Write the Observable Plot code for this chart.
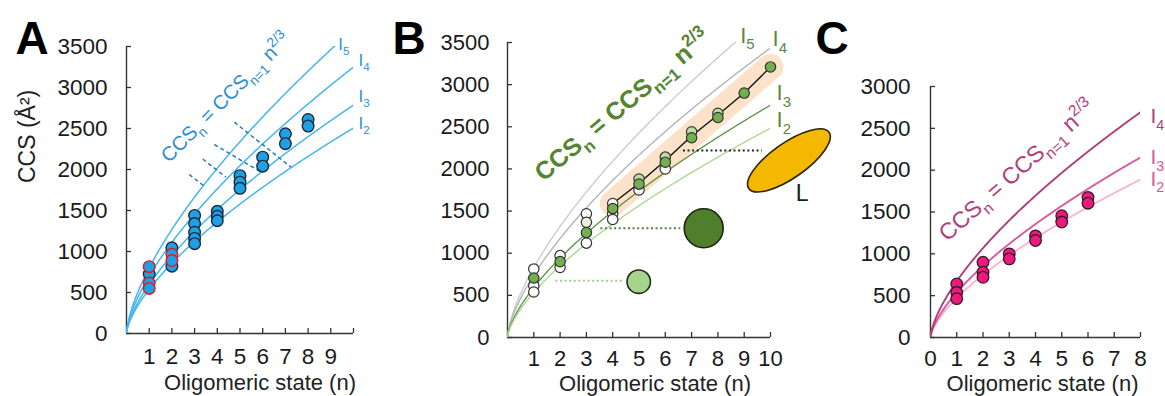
<!DOCTYPE html>
<html><head><meta charset="utf-8">
<script src="https://cdn.jsdelivr.net/npm/d3@7"></script>
<script src="https://cdn.jsdelivr.net/npm/@observablehq/plot@0.6"></script>
<style>
body{margin:0;background:#fff;}
#wrap{position:relative;width:1165px;height:396px;overflow:hidden;background:#fff;}
#wrap > svg{position:absolute;top:0;}
</style></head><body><div id="wrap"></div>
<script>
// ---------------- DATA ----------------
// Panel A
const aPtN   = [1,1,1,1, 2,2,2,2, 3,3,3,3,3, 4,4,4, 5,5,5, 6,6, 7,7, 8,8];
const aPtCCS = [815,725,615,550, 1045,965,890,820, 1440,1340,1235,1160,1095, 1490,1430,1375, 1925,1845,1770, 2150,2040, 2435,2315, 2610,2530];
const aPtRim = ["red","dark","red","red", "dark","red","red","dark", "dark","dark","dark","dark","dark", "dark","dark","dark", "dark","dark","dark", "dark","dark", "dark","dark", "dark","dark"];
const aCurveName = ["5","4","3","2"];
const aCurveCCS1 = [800, 700, 600, 540];
const aDashX1 = [2.76, 3.36, 3.87, 4.75];
const aDashY1 = [1939, 2128, 2305, 2577];
const aDashX2 = [3.43, 4.38, 5.93, 7.25];
const aDashY2 = [1796, 1906, 1967, 2028];
const aEq = {n: 1.87, ccs: 2073};
const aXTicks = [1,2,3,4,5,6,7,8,9,10];
const aXLabels = [1,2,3,4,5,6,7,8,9];
const aYTicks = [0,500,1000,1500,2000,2500,3000,3500];

// Panel B
const bPtN    = [1,1,1,1, 2,2,2, 3,3,3,3, 4,4,4,4, 5,5,5, 6,6,6, 7,7, 8,8, 9, 10];
const bPtCCS  = [813,706,615,540, 971,900,832, 1467,1367,1245,1120, 1590,1530,1470,1400, 1880,1820,1750, 2140,2080,2000, 2440,2370, 2660,2610, 2900, 3210];
const bPtKind = ["W","G","W","W", "W","G","W", "W","P","G","W", "W","G","W","W", "L","G","W", "L","G","W", "L","G", "L","G", "G", "G"];
const bCurveName = ["5","4","3","2"];
const bCurveCCS1 = [830, 740, 594, 535];
const bLineN   = [4,5,6,7,8,9,10];
const bLineCCS = [1590,1830,2100,2390,2640,2900,3210];
const bBlobN   = [4.99, 7.46];
const bBlobCCS = [662, 1296];
const bBlobKind = ["light","dark"];
const bGuideX1 = [1.82, 3.53, 6.67];
const bGuideX2 = [4.42, 6.57, 9.67];
const bGuideY  = [674, 1296, 2220];
const bGuideKind = ["light","dark","black"];
const bLigand = {n: 10.7, ccs: 2101, label: "L", labelN: 11.2, labelCCS: 1708};
const bEq = {n: 1.37, ccs: 1843};
const bXTicks = [1,2,3,4,5,6,7,8,9,10];
const bYTicks = [0,500,1000,1500,2000,2500,3000,3500];

// Panel C
const cPtN   = [1,1,1, 2,2,2, 3,3, 4,4, 5,5, 6,6];
const cPtCCS = [640,540,465, 900,780,720, 1000,940, 1215,1160, 1455,1380, 1675,1605];
const cCurveName = ["4","3","2"];
const cCurveCCS1 = [673, 538, 472];
const cEq = {n: 0.64, ccs: 1137};
const cXTicks = [0,1,2,3,4,5,6,7,8];
const cYTicks = [0,500,1000,1500,2000,2500,3000];

const eqText = "CCS_{n} = CCS_{n=1} n^{2/3}";
const FONT = "Liberation Sans, Arial, Helvetica, sans-serif";
const AXIS = "#333";
const nGrid = d3.range(0, 10.0001, 0.02);

function curveRows(names, ccs1) {
  return names.flatMap((name, i) => nGrid.map(n => ({name, n, v: ccs1[i] * Math.pow(n, 2/3)})));
}
function curveEnds(names, ccs1, xmax, ymax) {
  return names.map((name, i) => {
    const n = Math.min(xmax, Math.pow(ymax / ccs1[i], 1.5));
    return {name, n, v: ccs1[i] * Math.pow(n, 2/3)};
  });
}
function ellipseSymbol(a, b, deg) {
  const t = deg * Math.PI / 180, c = Math.cos(t), s = Math.sin(t), k = 0.5523;
  const P = (u, v) => [u * c + v * s, -u * s + v * c];
  return {draw(ctx) {
    ctx.moveTo(...P(a, 0));
    const segs = [[[a, k*b],[k*a, b],[0, b]], [[-k*a, b],[-a, k*b],[-a, 0]],
                  [[-a, -k*b],[-k*a, -b],[0, -b]], [[k*a, -b],[a, -k*b],[a, 0]]];
    for (const [p1, p2, p3] of segs) ctx.bezierCurveTo(...P(...p1), ...P(...p2), ...P(...p3));
    ctx.closePath();
  }};
}
function axes(o) {
  const fw = o.width - o.ml - o.mr, fh = o.height - o.mt - o.mb;
  return [
    Plot.ruleY([0], {stroke: AXIS, strokeWidth: 1.4}),
    Plot.ruleX([0], {stroke: AXIS, strokeWidth: 1.4}),
    Plot.tickX(o.xTicks, {x: d => d, insetTop: fh - 5, stroke: AXIS, strokeWidth: 1.3}),
    Plot.tickY(o.yTicks, {y: d => d, insetRight: fw - 5, stroke: AXIS, strokeWidth: 1.3}),
    Plot.axisX({ticks: o.xLabels, tickSize: 0, tickPadding: o.xPad, fontSize: o.fs, tickFormat: d => String(d), label: null}),
    Plot.axisY({ticks: o.yTicks, tickSize: 0, tickPadding: o.yPad, fontSize: o.fs, tickFormat: d => String(d), label: null}),
    Plot.text(["Oligomeric state (n)"], {frameAnchor: "bottom", dx: o.xlDx, dy: o.xlDy, lineAnchor: "bottom", fontSize: 22, fill: "#222"})
  ];
}
function richify(svg) {
  d3.select(svg).selectAll("text").each(function () {
    const t = this.textContent;
    if (!/[_^]\{/.test(t)) return;
    const fs = parseFloat(getComputedStyle(this).fontSize);
    const parts = t.split(/([_^]\{[^}]*\})/).filter(s => s.length);
    while (this.firstChild) this.removeChild(this.firstChild);
    let cur = 0;
    for (const p of parts) {
      let mode = "n", txt = p;
      if (p.startsWith("_{")) { mode = "sub"; txt = p.slice(2, -1); }
      else if (p.startsWith("^{")) { mode = "sup"; txt = p.slice(2, -1); }
      const target = mode === "sub" ? 0.3 * fs : mode === "sup" ? -0.42 * fs : 0;
      const ts = document.createElementNS("http://www.w3.org/2000/svg", "tspan");
      if (target !== cur) ts.setAttribute("dy", target - cur);
      if (mode !== "n") ts.setAttribute("font-size", 0.68 * fs);
      ts.textContent = txt;
      this.appendChild(ts);
      cur = target;
    }
  });
}
function place(svg, left) {
  svg.style.left = left + "px";
  document.getElementById("wrap").appendChild(svg);
  richify(svg);
}

// ---------------- PANEL A ----------------
{
  const o = {width: 390, height: 396, ml: 126, mr: 37, mt: 46, mb: 63, xTicks: aXTicks, xLabels: aXLabels, yTicks: aYTicks,
             xPad: 15, yPad: 19, fs: 22.5, xlDx: 20, xlDy: 56};
  const pts = aPtN.map((n, i) => ({n, v: aPtCCS[i], rim: aPtRim[i]})).sort((p, q) => (p.rim === "red") - (q.rim === "red"));
  const dashes = aDashX1.map((x1, i) => ({x1, y1: aDashY1[i], x2: aDashX2[i], y2: aDashY2[i]}));
  const ends = curveEnds(aCurveName, aCurveCCS1, 10, 3500);
  const labOff = [[4, 3], [5, -1], [5, -3], [5, 1]];
  const svg = Plot.plot({
    width: o.width, height: o.height, marginLeft: o.ml, marginRight: o.mr, marginTop: o.mt, marginBottom: o.mb,
    x: {domain: [0, 10]}, y: {domain: [0, 3500]},
    style: {fontFamily: FONT, background: "transparent", overflow: "visible", color: "#1a1a1a"},
    marks: [
      ...axes(o),
      Plot.line(curveRows(aCurveName, aCurveCCS1), {x: "n", y: "v", z: "name", stroke: "#45b6ef", strokeWidth: 1.5, clip: true}),
      Plot.link(dashes, {x1: "x1", y1: "y1", x2: "x2", y2: "y2", stroke: "#2b79b8", strokeWidth: 1.5, strokeDasharray: "4,3"}),
      Plot.dot(pts, {x: "n", y: "v", r: 5.8, fill: "#1f9fe4", stroke: d => d.rim === "red" ? "#e8161c" : "#1d2a3a", strokeWidth: 1.4}),
      ...ends.map((e, i) => Plot.text([e], {x: "n", y: "v", text: d => `I_{${d.name}}`, dx: labOff[i][0], dy: labOff[i][1],
        textAnchor: "start", lineAnchor: "bottom", fontSize: 17, fill: "#2a95da"})),
      Plot.text([aEq], {x: "n", y: "ccs", text: () => eqText, rotate: -45, textAnchor: "start", lineAnchor: "bottom", fontSize: 20, fill: "#2a8fd4"}),
      Plot.text(["CCS (Å²)"], {frameAnchor: "left", dx: -99, dy: -7, rotate: -90, fontSize: 23, fill: "#222"}),
      Plot.text(["A"], {frameAnchor: "top-left", dx: -111, dy: 7, textAnchor: "start", lineAnchor: "bottom", fontSize: 46, fontWeight: "bold", fill: "#000"})
    ]
  });
  place(svg, 0);
}

// ---------------- PANEL C ----------------
{
  const o = {width: 365, height: 396, ml: 130, mr: 25, mt: 86, mb: 59, xTicks: cXTicks, xLabels: cXTicks, yTicks: cYTicks,
             xPad: 13, yPad: 20, fs: 22.5, xlDx: 7, xlDy: 53};
  const pts = cPtN.map((n, i) => ({n, v: cPtCCS[i]}));
  const colors = ["#ad3f7b", "#d65a9e", "#f7b6d1"];
  const ends = curveEnds(cCurveName, cCurveCCS1, 8, 3000);
  const labOff = [[10, 11], [10, 7], [10, 6]];
  const rows = curveRows(cCurveName, cCurveCCS1).filter(d => d.n <= 8);
  const svg = Plot.plot({
    width: o.width, height: o.height, marginLeft: o.ml, marginRight: o.mr, marginTop: o.mt, marginBottom: o.mb,
    x: {domain: [0, 8]}, y: {domain: [0, 3000]},
    style: {fontFamily: FONT, background: "transparent", overflow: "visible", color: "#1a1a1a"},
    marks: [
      ...axes(o),
      ...cCurveName.map((name, i) => Plot.line(rows.filter(d => d.name === name), {x: "n", y: "v", stroke: colors[i], strokeWidth: 1.9, clip: true})).reverse(),
      Plot.dot(pts, {x: "n", y: "v", r: 5.8, fill: "#ec1a7d", stroke: "#3a1a28", strokeWidth: 1.3}),
      ...ends.map((e, i) => Plot.text([e], {x: "n", y: "v", text: d => `I_{${d.name}}`, dx: labOff[i][0], dy: labOff[i][1],
        textAnchor: "start", lineAnchor: "bottom", fontSize: 21, fill: colors[Math.min(i, 1)]})),
      Plot.text([cEq], {x: "n", y: "ccs", text: () => eqText, rotate: -41.5, textAnchor: "start", lineAnchor: "bottom", fontSize: 23, fill: "#b2407e"}),
      Plot.text(["C"], {frameAnchor: "top-left", dx: -115, dy: -33, textAnchor: "start", lineAnchor: "bottom", fontSize: 46, fontWeight: "bold", fill: "#000"})
    ]
  });
  place(svg, 800);
}

// ---------------- PANEL B ----------------
{
  const o = {width: 420, height: 396, ml: 117, mr: 40, mt: 42, mb: 59, xTicks: bXTicks, xLabels: bXTicks, yTicks: bYTicks,
             xPad: 13, yPad: 18, fs: 22, xlDx: 16, xlDy: 53};
  const kindFill = {W: "#ffffff", P: "#e4f1da", L: "#bddfa6", G: "#72b04f"};
  const order = {W: 0, P: 1, L: 2, G: 3};
  const pts = bPtN.map((n, i) => ({n, v: bPtCCS[i], k: bPtKind[i]})).sort((p, q) => order[p.k] - order[q.k]);
  const line = bLineN.map((n, i) => ({n, v: bLineCCS[i]}));
  const colors = ["#c9c9c9", "#b0b0b0", "#5b9140", "#a9d68e"];
  const ends = curveEnds(bCurveName, bCurveCCS1, 10, 3500);
  const labOff = [[5, 0], [2, -2], [6, -5], [6, -1]];
  const guides = bGuideX1.map((x1, i) => ({x1, x2: bGuideX2[i], y: bGuideY[i], k: bGuideKind[i]}));
  const guideColor = {light: "#9fd184", dark: "#4f8530", black: "#222"};
  const blobs = bBlobN.map((n, i) => ({n, v: bBlobCCS[i], k: bBlobKind[i]}));
  const svg = Plot.plot({
    width: o.width, height: o.height, marginLeft: o.ml, marginRight: o.mr, marginTop: o.mt, marginBottom: o.mb,
    x: {domain: [0, 10]}, y: {domain: [0, 3500]},
    style: {fontFamily: FONT, background: "transparent", overflow: "visible", color: "#1a1a1a"},
    marks: [
      Plot.line(line.filter((d, i) => i === 0 || i === line.length - 1), {x: "n", y: "v", stroke: "#fce2c8", strokeWidth: 26, strokeLinecap: "round"}),
      ...axes(o),
      ...bCurveName.map((name, i) => Plot.line(curveRows(bCurveName, bCurveCCS1).filter(d => d.name === name), {x: "n", y: "v", stroke: colors[i], strokeWidth: 1.3, clip: true})),
      Plot.line(line, {x: "n", y: "v", stroke: "#111", strokeWidth: 1.4}),
      Plot.dot(pts, {x: "n", y: "v", r: 5.2, fill: d => kindFill[d.k], stroke: "#333", strokeWidth: 1.2}),
      ...guides.map(g => Plot.link([g], {x1: "x1", x2: "x2", y1: "y", y2: "y", stroke: guideColor[g.k], strokeWidth: 2, strokeDasharray: "2,2.6"})),
      Plot.dot(blobs.filter(d => d.k === "light"), {x: "n", y: "v", r: 11.7, fill: "#a6d48c", stroke: "#1e2a14", strokeWidth: 1.6}),
      Plot.dot(blobs.filter(d => d.k === "dark"), {x: "n", y: "v", r: 19.5, fill: "#4e7f2d", stroke: "#1a2410", strokeWidth: 1.6}),
      Plot.dot([bLigand], {x: "n", y: "ccs", r: 1, symbol: ellipseSymbol(49, 17.5, 35), fill: "#f5b800", stroke: "#2a2200", strokeWidth: 1.6}),
      Plot.text([bLigand], {x: "labelN", y: "labelCCS", text: "label", fontSize: 23, fill: "#1a1a1a"}),
      ...ends.map((e, i) => Plot.text([e], {x: "n", y: "v", text: d => `I_{${d.name}}`, dx: labOff[i][0], dy: labOff[i][1],
        textAnchor: "start", lineAnchor: "bottom", fontSize: 22, fill: "#5b8a3c"})),
      Plot.text([bEq], {x: "n", y: "ccs", text: () => eqText, rotate: -40, textAnchor: "start", lineAnchor: "bottom", fontSize: 25, fontWeight: "bold", fill: "#55852f"}),
      Plot.text(["B"], {frameAnchor: "top-left", dx: -115, dy: 11, textAnchor: "start", lineAnchor: "bottom", fontSize: 46, fontWeight: "bold", fill: "#000"})
    ]
  });
  place(svg, 390);
}
</script></body></html>
